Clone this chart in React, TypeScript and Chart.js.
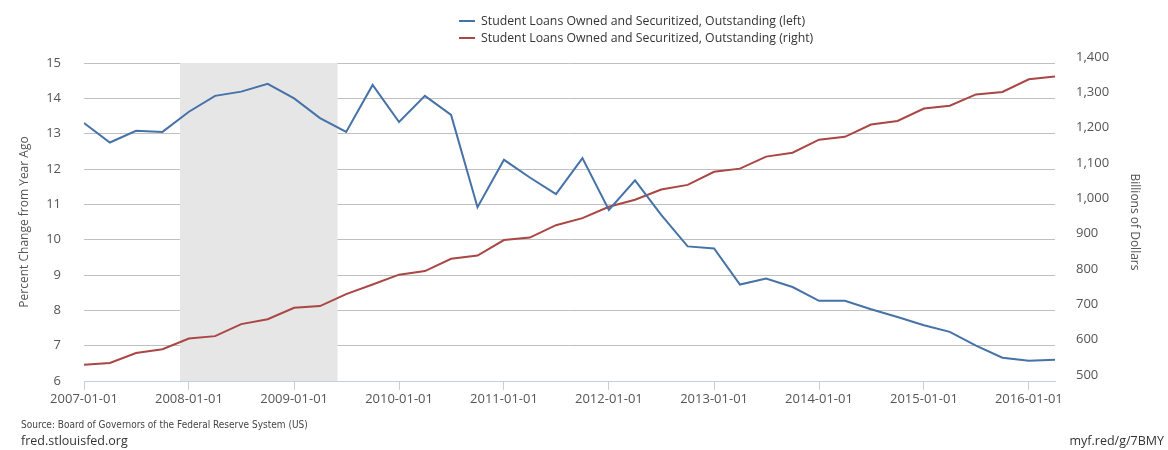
import React, { useEffect, useRef } from 'react';
import { Chart, registerables } from 'chart.js';

Chart.register(...registerables);

const dates = [
  '2007-01-01', '2007-04-01', '2007-07-01', '2007-10-01',
  '2008-01-01', '2008-04-01', '2008-07-01', '2008-10-01',
  '2009-01-01', '2009-04-01', '2009-07-01', '2009-10-01',
  '2010-01-01', '2010-04-01', '2010-07-01', '2010-10-01',
  '2011-01-01', '2011-04-01', '2011-07-01', '2011-10-01',
  '2012-01-01', '2012-04-01', '2012-07-01', '2012-10-01',
  '2013-01-01', '2013-04-01', '2013-07-01', '2013-10-01',
  '2014-01-01', '2014-04-01', '2014-07-01', '2014-10-01',
  '2015-01-01', '2015-04-01', '2015-07-01', '2015-10-01',
  '2016-01-01', '2016-04-01',
];

const pctChange = [
  13.30, 12.75, 13.08, 13.05,
  13.62, 14.07, 14.19, 14.41,
  14.00, 13.44, 13.05, 14.38,
  13.33, 14.07, 13.53, 10.92,
  12.26, 11.76, 11.29, 12.31,
  10.84, 11.68, 10.70, 9.81,
  9.75, 8.73, 8.90, 8.66,
  8.27, 8.27, 8.03, 7.81,
  7.58, 7.39, 7.00, 6.66,
  6.57, 6.60,
];

const outstanding = [
  546, 551, 579, 590,
  620, 627, 661, 675,
  707, 712, 746, 773,
  801, 811, 846, 855,
  899, 906, 941, 961,
  993, 1013, 1042, 1055,
  1092, 1101, 1135, 1146,
  1183, 1191, 1226, 1236,
  1271, 1279, 1311, 1318,
  1354, 1362,
];

const xTickLabels = [
  '2007-01-01', '2008-01-01', '2009-01-01', '2010-01-01', '2011-01-01',
  '2012-01-01', '2013-01-01', '2014-01-01', '2015-01-01', '2016-01-01',
];
const leftTicks = [6, 7, 8, 9, 10, 11, 12, 13, 14, 15];
const rightTicks = [500, 600, 700, 800, 900, 1000, 1100, 1200, 1300, 1400];
const recessionStart = '2007-12-01';
const recessionEnd = '2009-06-01';

const seriesNames = [
  'Student Loans Owned and Securitized, Outstanding (left)',
  'Student Loans Owned and Securitized, Outstanding (right)',
];
const seriesColors = ['#4572A7', '#AA4643'];

const FONT = '"Open Sans", "DejaVu Sans", sans-serif';
const TEXT = '#555555';

const recessionPlugin = {
  id: 'recessionBand',
  beforeDatasetsDraw(chart: any) {
    const { ctx, chartArea, scales } = chart;
    const x = scales.x;
    const x0 = x.getPixelForValue(Date.parse(recessionStart));
    const x1 = x.getPixelForValue(Date.parse(recessionEnd));
    ctx.save();
    ctx.fillStyle = '#E6E6E6';
    ctx.fillRect(x0, chartArea.top, x1 - x0, chartArea.bottom - chartArea.top);
    ctx.restore();
  },
};

export default function App() {
  const canvasRef = useRef<HTMLCanvasElement | null>(null);

  useEffect(() => {
    if (!canvasRef.current) return;
    const chart = new Chart(canvasRef.current, {
      type: 'line',
      data: {
        datasets: [
          {
            label: seriesNames[0],
            data: dates.map((d, i) => ({ x: Date.parse(d), y: pctChange[i] })),
            borderColor: seriesColors[0],
            backgroundColor: seriesColors[0],
            borderWidth: 2,
            pointRadius: 0,
            tension: 0,
            yAxisID: 'y',
          },
          {
            label: seriesNames[1],
            data: dates.map((d, i) => ({ x: Date.parse(d), y: outstanding[i] })),
            borderColor: seriesColors[1],
            backgroundColor: seriesColors[1],
            borderWidth: 2,
            pointRadius: 0,
            tension: 0,
            yAxisID: 'y1',
          },
        ],
      },
      options: {
        animation: false,
        responsive: false,
        devicePixelRatio: 1,
        layout: { padding: { top: 63, left: 0, right: 0, bottom: 0 } },
        plugins: {
          legend: { display: false },
          tooltip: { enabled: false },
        },
        scales: {
          x: {
            type: 'linear',
            min: Date.parse(dates[0]),
            max: Date.parse(dates[dates.length - 1]),
            afterBuildTicks: (s: any) => {
              s.ticks = xTickLabels.map((d) => ({ value: Date.parse(d) }));
            },
            afterFit: (s: any) => {
              s.height = 69;
            },
            ticks: {
              autoSkip: false,
              maxRotation: 0,
              padding: 1,
              color: TEXT,
              font: { family: FONT, size: 13 },
              callback: (v: any) => new Date(v).toISOString().slice(0, 10),
            },
            grid: {
              drawOnChartArea: false,
              drawTicks: true,
              tickLength: 9,
              tickColor: '#C0D0E0',
              color: '#C0D0E0',
            },
            border: { display: true, color: '#C0D0E0' },
          },
          y: {
            position: 'left',
            min: 6,
            max: 15,
            afterBuildTicks: (s: any) => {
              s.ticks = leftTicks.map((v) => ({ value: v }));
            },
            afterFit: (s: any) => {
              s.width = 84;
            },
            ticks: {
              padding: 23,
              color: TEXT,
              font: { family: FONT, size: 13 },
            },
            grid: {
              drawTicks: false,
              color: (c: any) => (c.tick && c.tick.value === 6 ? 'rgba(0,0,0,0)' : '#C0C0C0'),
            },
            border: { display: false },
            title: {
              display: true,
              text: 'Percent Change from Year Ago',
              color: TEXT,
              font: { family: FONT, size: 12 },
              padding: { top: 17, bottom: 0 },
            },
          },
          y1: {
            position: 'right',
            min: 500,
            max: 1400,
            afterBuildTicks: (s: any) => {
              s.ticks = rightTicks.map((v) => ({ value: v }));
            },
            afterFit: (s: any) => {
              s.width = 113;
            },
            ticks: {
              padding: 21,
              labelOffset: -6,
              color: TEXT,
              font: { family: FONT, size: 13 },
              callback: (v: any) => Number(v).toLocaleString('en-US'),
            },
            grid: { drawOnChartArea: false, drawTicks: false },
            border: { display: false },
            title: {
              display: true,
              text: 'Billions of Dollars',
              color: TEXT,
              font: { family: FONT, size: 12 },
              padding: { top: 26, bottom: 0 },
            },
          },
        },
      } as any,
      plugins: [recessionPlugin],
    });
    return () => chart.destroy();
  }, []);

  const legendRow = (i: number, top: number) => (
    <div
      key={i}
      style={{ position: 'absolute', left: 459, top, height: 17, display: 'flex', alignItems: 'center' }}
    >
      <div style={{ width: 16, height: 2, background: seriesColors[i], marginRight: 6 }} />
      <span style={{ fontFamily: FONT, fontSize: 12.3, color: '#333', whiteSpace: 'nowrap', lineHeight: '17px' }}>
        {seriesNames[i]}
      </span>
    </div>
  );

  return (
    <div style={{ position: 'absolute', left: 0, top: 0, width: 1168, height: 450, background: '#fff', overflow: 'hidden' }}>
      <canvas ref={canvasRef} width={1168} height={450} style={{ position: 'absolute', left: 0, top: 0, width: 1168, height: 450 }} />
      {legendRow(0, 12)}
      {legendRow(1, 29)}
      <div
        style={{
          position: 'absolute', left: 21, top: 418, fontSize: 10, lineHeight: '14px', color: '#444',
          fontFamily: '"DejaVu Sans Condensed", "Liberation Sans Narrow", "Open Sans", sans-serif',
          fontStretch: 'condensed', whiteSpace: 'nowrap',
        }}
      >
        Source: Board of Governors of the Federal Reserve System (US)
      </div>
      <div style={{ position: 'absolute', left: 21, top: 432, fontSize: 12.5, lineHeight: '18px', color: '#333', fontFamily: FONT, whiteSpace: 'nowrap' }}>
        fred.stlouisfed.org
      </div>
      <div style={{ position: 'absolute', right: 4, top: 432, fontSize: 12.5, lineHeight: '18px', color: '#333', fontFamily: FONT, whiteSpace: 'nowrap' }}>
        myf.red/g/7BMY
      </div>
    </div>
  );
}
